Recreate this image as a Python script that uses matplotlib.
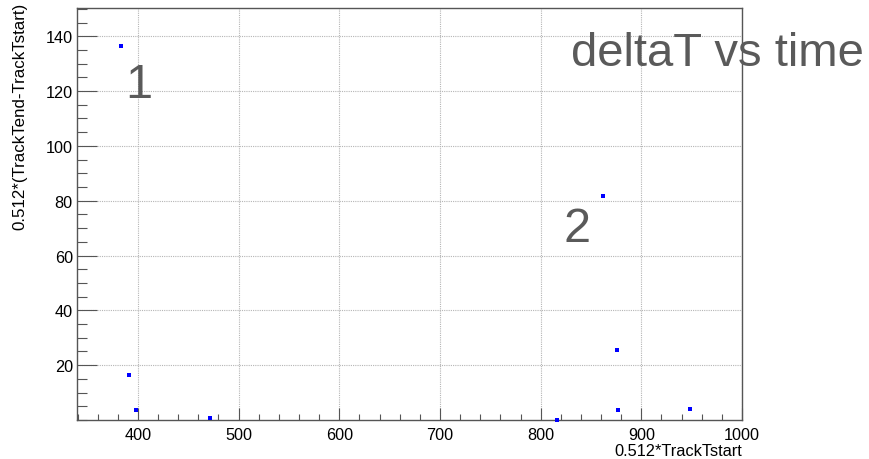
import matplotlib
matplotlib.use("Agg")
import matplotlib.pyplot as plt
from matplotlib.ticker import MultipleLocator

plt.rcParams['font.family'] = ['Liberation Sans', 'DejaVu Sans']

# Data
track_tstart = [383.0, 390.8, 398.0, 471.2, 816.5, 861.8, 875.4, 876.4, 948.6]
delta_t = [136.5, 16.5, 3.75, 0.6, 0.0, 81.8, 25.6, 3.5, 4.0]

x_label = "0.512*TrackTstart"
y_label = "0.512*(TrackTend-TrackTstart)"
title = "deltaT vs time"
annotations = ["1", "2"]
annot_pos = [(401, 122.5), (836, 70)]

W, H = 870, 460
fig = plt.figure(figsize=(W / 100, H / 100), dpi=100)
ax = fig.add_axes([77 / W, 1 - 421 / H, (742 - 77) / W, (421 - 9) / H])

ax.plot(track_tstart, delta_t, linestyle='none', marker='s', markersize=3.4,
        color='#0000ff', markeredgewidth=0, zorder=5, clip_on=False)

ax.set_xlim(339.5, 1000)
ax.set_ylim(0, 150.3)

ax.xaxis.set_major_locator(MultipleLocator(100))
ax.xaxis.set_minor_locator(MultipleLocator(20))
ax.yaxis.set_major_locator(MultipleLocator(20))
ax.yaxis.set_minor_locator(MultipleLocator(5))

ax.tick_params(axis='x', which='major', direction='in', length=8.6, width=0.8,
               color='#555555', labelsize=11.7, pad=5, top=False)
ax.tick_params(axis='x', which='minor', direction='in', length=4.3, width=0.8,
               color='#555555', top=False)
ax.tick_params(axis='y', which='major', direction='in', length=14.4, width=0.8,
               color='#555555', labelsize=11.7, pad=3, right=False)
ax.tick_params(axis='y', which='minor', direction='in', length=7.2, width=0.8,
               color='#555555', right=False)

yt = [20, 40, 60, 80, 100, 120, 140]
ax.set_yticks(yt)
xt = [400, 500, 600, 700, 800, 900, 1000]
ax.set_xticks(xt)

ax.grid(True, which='major', linestyle=(0, (1, 1)), color='#b5b5b5', linewidth=0.8)
ax.set_axisbelow(True)

for s in ax.spines.values():
    s.set_color('#555555')
    s.set_linewidth(1.0)

for t, (px, py) in zip(annotations, annot_pos):
    ax.text(px, py, t, fontsize=35, color='#5a5a5a', ha='center', va='center')

fig.text(742 / W, 1 - 452 / H, x_label, ha='right', va='center', fontsize=11.8)
fig.text(20 / W, 1 - 3 / H, y_label, rotation=90, ha='center', va='top', fontsize=12.2)
fig.text(571 / W, 1 - 65.7 / H, title, ha='left', va='baseline', fontsize=34,
         color='#5a5a5a')

fig.savefig('out.png', dpi=100)
